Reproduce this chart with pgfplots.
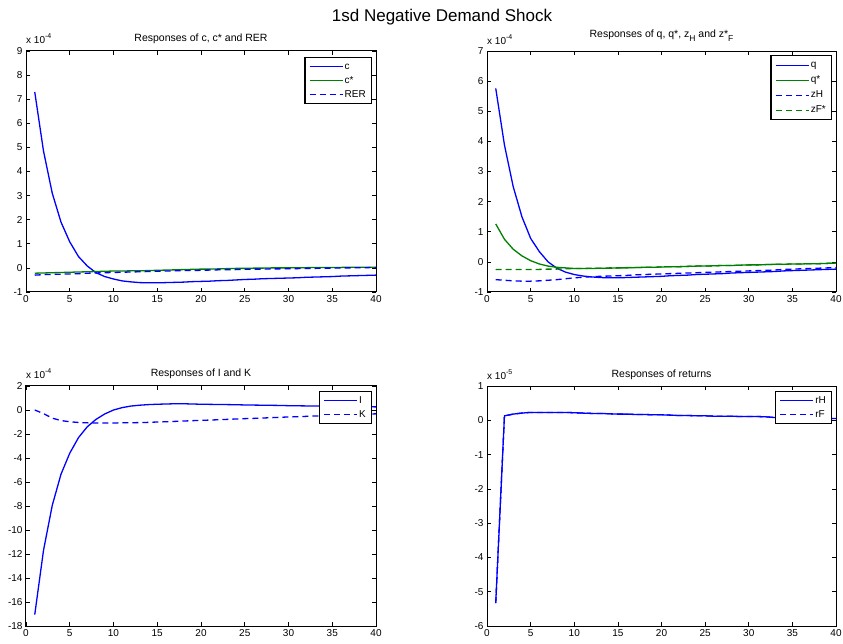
\documentclass[border=0pt]{standalone}
\usepackage{fontspec}
\setmainfont{Liberation Sans}
\usepackage{pgfplots}
\pgfplotsset{compat=1.18}
\usepackage{pgfplotstable}

\definecolor{mblue}{rgb}{0,0,1}
\definecolor{mgreen}{rgb}{0,0.5,0}

% consumption and real exchange rate (units of 1e-4)
\pgfplotstableread{
t c cstar rer
1 7.30 -0.22 -0.30
2 4.85 -0.21 -0.28
3 3.10 -0.20 -0.27
4 1.90 -0.19 -0.26
5 1.08 -0.18 -0.25
6 0.47 -0.17 -0.24
7 0.08 -0.16 -0.22
8 -0.20 -0.15 -0.21
9 -0.36 -0.14 -0.20
10 -0.46 -0.13 -0.19
11 -0.54 -0.13 -0.18
12 -0.58 -0.12 -0.17
13 -0.61 -0.12 -0.16
14 -0.62 -0.11 -0.15
15 -0.62 -0.10 -0.14
16 -0.61 -0.09 -0.13
17 -0.60 -0.08 -0.12
18 -0.59 -0.07 -0.11
19 -0.57 -0.06 -0.11
20 -0.56 -0.05 -0.10
21 -0.55 -0.05 -0.09
22 -0.53 -0.04 -0.08
23 -0.52 -0.03 -0.08
24 -0.50 -0.02 -0.07
25 -0.48 -0.02 -0.06
26 -0.47 -0.01 -0.05
27 -0.45 -0.01 -0.05
28 -0.44 0.00 -0.04
29 -0.43 0.00 -0.04
30 -0.42 0.00 -0.03
31 -0.41 0.01 -0.03
32 -0.39 0.01 -0.02
33 -0.38 0.02 -0.02
34 -0.37 0.02 -0.01
35 -0.36 0.02 -0.01
36 -0.34 0.02 0.00
37 -0.33 0.03 0.00
38 -0.32 0.03 0.01
39 -0.31 0.03 0.01
40 -0.30 0.03 0.02
}\tabC

% output and productivity (units of 1e-4)
\pgfplotstableread{
t q qstar zh zfstar
1 5.76 1.26 -0.59 -0.25
2 3.88 0.75 -0.61 -0.25
3 2.50 0.42 -0.63 -0.25
4 1.50 0.20 -0.64 -0.25
5 0.78 0.04 -0.64 -0.25
6 0.34 -0.07 -0.63 -0.25
7 0.00 -0.14 -0.61 -0.24
8 -0.21 -0.18 -0.59 -0.24
9 -0.34 -0.20 -0.56 -0.23
10 -0.42 -0.22 -0.53 -0.22
11 -0.47 -0.22 -0.51 -0.22
12 -0.50 -0.22 -0.49 -0.21
13 -0.52 -0.21 -0.48 -0.21
14 -0.53 -0.21 -0.47 -0.20
15 -0.53 -0.20 -0.46 -0.20
16 -0.52 -0.20 -0.45 -0.19
17 -0.51 -0.19 -0.43 -0.19
18 -0.50 -0.18 -0.42 -0.18
19 -0.49 -0.18 -0.41 -0.18
20 -0.48 -0.17 -0.40 -0.17
21 -0.46 -0.16 -0.39 -0.16
22 -0.45 -0.16 -0.38 -0.16
23 -0.44 -0.15 -0.37 -0.15
24 -0.42 -0.14 -0.36 -0.14
25 -0.41 -0.14 -0.35 -0.14
26 -0.40 -0.13 -0.34 -0.13
27 -0.39 -0.12 -0.33 -0.12
28 -0.37 -0.12 -0.32 -0.12
29 -0.36 -0.11 -0.31 -0.11
30 -0.35 -0.10 -0.30 -0.10
31 -0.34 -0.10 -0.29 -0.10
32 -0.33 -0.09 -0.28 -0.09
33 -0.32 -0.08 -0.27 -0.08
34 -0.30 -0.08 -0.25 -0.08
35 -0.29 -0.07 -0.24 -0.07
36 -0.28 -0.07 -0.23 -0.07
37 -0.27 -0.06 -0.22 -0.06
38 -0.26 -0.06 -0.21 -0.06
39 -0.25 -0.05 -0.20 -0.05
40 -0.24 -0.04 -0.19 -0.04
}\tabQ

% investment and capital (units of 1e-4)
\pgfplotstableread{
t I K
1 -17.05 0.00
2 -11.70 -0.30
3 -7.95 -0.68
4 -5.35 -0.88
5 -3.60 -0.98
6 -2.30 -1.04
7 -1.40 -1.07
8 -0.78 -1.08
9 -0.33 -1.08
10 0.00 -1.08
11 0.20 -1.07
12 0.33 -1.06
13 0.40 -1.05
14 0.45 -1.03
15 0.48 -1.00
16 0.50 -0.98
17 0.52 -0.95
18 0.52 -0.92
19 0.50 -0.89
20 0.48 -0.86
21 0.47 -0.84
22 0.46 -0.81
23 0.45 -0.78
24 0.44 -0.75
25 0.42 -0.72
26 0.41 -0.70
27 0.40 -0.67
28 0.39 -0.64
29 0.38 -0.61
30 0.36 -0.58
31 0.35 -0.56
32 0.34 -0.53
33 0.33 -0.50
34 0.32 -0.48
35 0.31 -0.45
36 0.30 -0.42
37 0.29 -0.39
38 0.28 -0.37
39 0.27 -0.34
40 0.26 -0.32
}\tabI

% returns (units of 1e-5)
\pgfplotstableread{
t rH rF
1 -5.33 -5.33
2 0.13 0.13
3 0.18 0.18
4 0.21 0.21
5 0.23 0.23
6 0.23 0.23
7 0.23 0.23
8 0.23 0.23
9 0.23 0.23
10 0.22 0.22
11 0.21 0.21
12 0.20 0.20
13 0.20 0.20
14 0.19 0.19
15 0.18 0.18
16 0.18 0.18
17 0.17 0.17
18 0.17 0.17
19 0.16 0.16
20 0.16 0.16
21 0.15 0.15
22 0.14 0.14
23 0.14 0.14
24 0.13 0.13
25 0.13 0.13
26 0.12 0.12
27 0.12 0.12
28 0.12 0.12
29 0.11 0.11
30 0.11 0.11
31 0.11 0.11
32 0.10 0.10
33 0.08 0.08
34 0.08 0.08
35 0.07 0.07
36 0.07 0.07
37 0.06 0.06
38 0.06 0.06
39 0.05 0.05
40 0.05 0.05
}\tabR

\pgfplotsset{
  irf/.style={
    scale only axis, width=350pt, height=241pt,
    anchor=south west,
    xmin=0, xmax=40, xtick={0,5,...,40},
    tick align=inside, xtick pos=both, ytick pos=both,
    major tick length=4pt,
    axis line style={line width=1pt},
    every tick/.style={black, line width=0.6pt},
    scaled ticks=false,
    clip mode=individual,
    /pgf/number format/assume math mode=true,
    tick label style={font=\fontsize{10}{12}\selectfont},
    title style={at={(0.5,1)}, anchor=base, yshift=3pt,
      font=\fontsize{10.5}{12}\selectfont},
    legend cell align=left,
    legend image code/.code={\draw[line width=1.3pt, ##1] (0pt,0pt) -- (33pt,0pt);},
  },
  % legend box placed in the top right corner, #1 = gap below the frame
  irfleg/.style={
    legend style={at={(1,1)}, anchor=north east, xshift=-4pt, yshift=-#1,
      draw=black, line width=1.4pt, fill=white,
      font=\fontsize{10}{12}\selectfont,
      inner xsep=4pt, inner ysep=2pt, row sep=0pt},
  },
  solidb/.style={color=mblue, line width=1.3pt},
  solidg/.style={color=mgreen, line width=1.3pt},
  dashb/.style={color=mblue, line width=1.3pt, dash pattern=on 6pt off 4pt},
  dashg/.style={color=mgreen, line width=1.3pt, dash pattern=on 6pt off 4pt},
}

\newcommand{\expo}[1]{\node[anchor=base west, inner sep=0pt,
  font=\fontsize{10}{12}\selectfont] at (rel axis cs:0,1) [yshift=7pt]
  {x 10\raisebox{5pt}{\fontsize{7}{8}\selectfont #1}};}

\begin{document}
\begin{tikzpicture}
\useasboundingbox (0pt,0pt) rectangle (843pt,643pt);

\node[anchor=base, font=\fontsize{17}{20}\selectfont] at (442pt,621pt)
  {1sd Negative Demand Shock};

% top left
\begin{axis}[irf, irfleg=6pt, at={(26pt,351pt)},
  ymin=-1, ymax=9, ytick={-1,0,...,9},
  legend style={nodes={inner sep=1.5pt, text height=8pt, text depth=3pt}},
  title={Responses of c, c* and RER}]
  \addplot[solidb] table[x=t, y=c] {\tabC};
  \addplot[solidg] table[x=t, y=cstar] {\tabC};
  \addplot[dashb] table[x=t, y=rer] {\tabC};
  \legend{c, c*, RER}
  \expo{-4}
\end{axis}

% top right
\begin{axis}[irf, irfleg=4pt, at={(487pt,351pt)}, width=349pt,
  ymin=-1, ymax=7, ytick={-1,0,...,7},
  title style={yshift=4.5pt},
  legend style={nodes={inner sep=1.5pt, text height=8.5pt, text depth=3.5pt}},
  title={Responses of q, q*, z\raisebox{-3.5pt}{\fontsize{8.5}{9}\selectfont H} and z*\raisebox{-3.5pt}{\fontsize{8.5}{9}\selectfont F}}]
  \addplot[solidb] table[x=t, y=q] {\tabQ};
  \addplot[solidg] table[x=t, y=qstar] {\tabQ};
  \addplot[dashb] table[x=t, y=zh] {\tabQ};
  \addplot[dashg] table[x=t, y=zfstar] {\tabQ};
  \legend{q, q*, zH, zF*}
  \expo{-4}
\end{axis}

% bottom left
\begin{axis}[irf, irfleg=5pt, at={(26pt,17pt)}, height=240pt,
  ymin=-18, ymax=2, ytick={-18,-16,...,2},
  legend style={nodes={inner sep=1.5pt, text height=8pt, text depth=3pt}},
  title={Responses of I and K}]
  \addplot[solidb] table[x=t, y=I] {\tabI};
  \addplot[dashb] table[x=t, y=K] {\tabI};
  \legend{I, K}
  \expo{-4}
\end{axis}

% bottom right
\begin{axis}[irf, irfleg=5pt, at={(487pt,17pt)}, width=349pt, height=240pt,
  ymin=-6, ymax=1, ytick={-6,-5,...,1},
  legend style={nodes={inner sep=1.5pt, text height=8pt, text depth=3pt}},
  title={Responses of returns}]
  \addplot[solidb] table[x=t, y=rH] {\tabR};
  \addplot[dashb] table[x=t, y=rF] {\tabR};
  \legend{rH, rF}
  \expo{-5}
\end{axis}
\end{tikzpicture}
\end{document}
